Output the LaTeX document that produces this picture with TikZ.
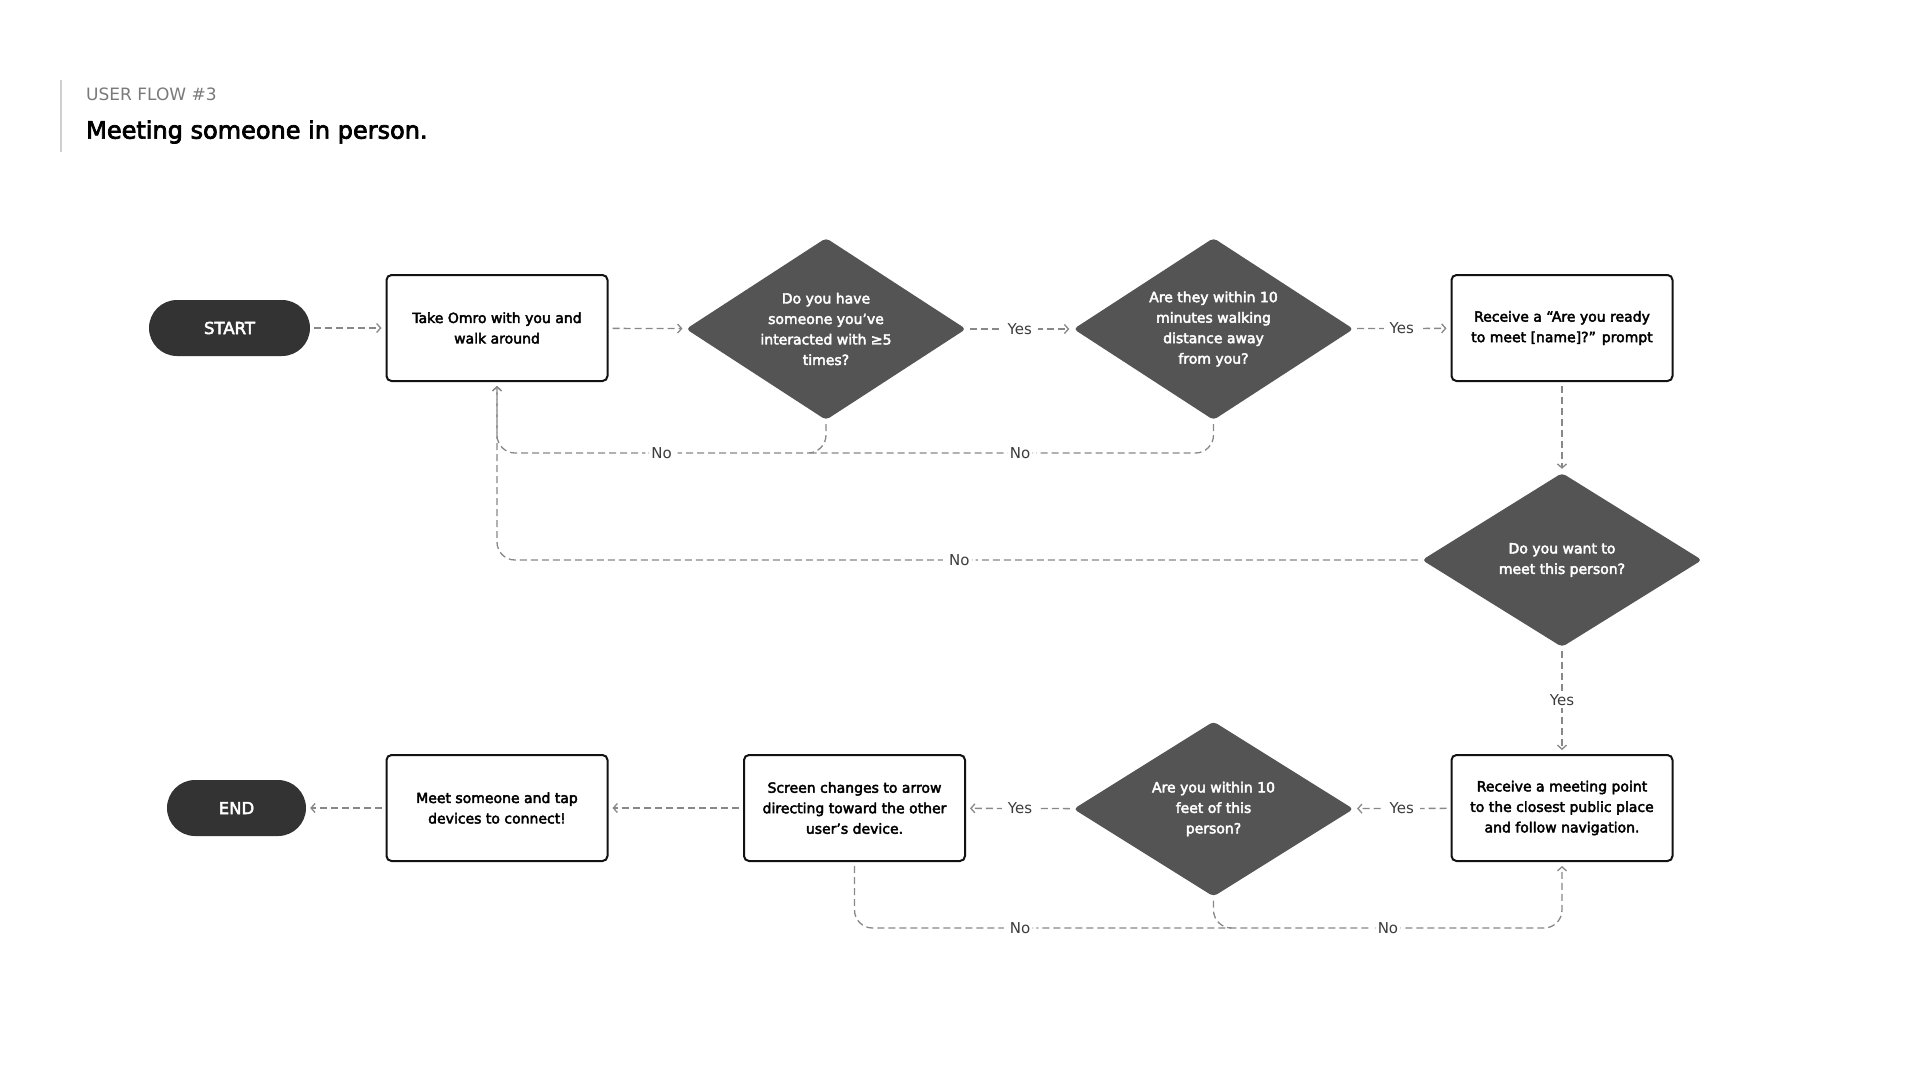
\documentclass[tikz,border=0pt]{standalone}
\usepackage{fontspec}
\setmainfont{DejaVu Sans}
\newfontfamily\medf{DejaVu Sans}[FakeBold=3]
\usetikzlibrary{arrows.meta,shapes.geometric}
\definecolor{dark}{HTML}{333333}
\definecolor{diafill}{HTML}{545454}
\definecolor{linec}{HTML}{888888}
\definecolor{lblc}{HTML}{3C3C3C}
\definecolor{barc}{HTML}{CFCFCF}
\definecolor{subc}{HTML}{7A7A7A}
\begin{document}
\begin{tikzpicture}[x=1pt,y=-1pt,
  box/.style={draw=black!93, line width=2pt, rounded corners=5pt, minimum width=221pt, minimum height=106pt, align=center, font=\medf\fontsize{14}{20.5}\selectfont, inner sep=0pt},
  pill/.style={fill=dark, rounded corners=28pt, minimum height=56pt, text=white, font=\medf\fontsize{16.5}{20}\selectfont, inner sep=0pt},
  dia/.style={diamond, fill=diafill, minimum width=280pt, minimum height=182pt, inner sep=0pt, rounded corners=4pt},
  dtext/.style={text=white, align=center, font=\medf\fontsize{14}{20.5}\selectfont},
  flowline/.style={draw=linec, line width=1.3pt, dash pattern=on 7pt off 4pt, shorten <=4pt},
  flow/.style={flowline, shorten >=4pt, -{Straight Barb[length=4pt,width=9pt]}},
  lbl/.style={fill=white, text=lblc, font=\fontsize{15}{18}\selectfont, inner xsep=6pt, inner ysep=2pt},
]
\useasboundingbox[fill=white] (0,0) rectangle (1920,1080);

% title
\draw[barc, line width=2pt] (61,80) -- (61,152);
\node[anchor=west, inner sep=0pt, text=subc, font=\fontsize{17}{20}\selectfont] (t1) at (86,94) {USER FLOW \#3};
\node[anchor=west, inner sep=0pt, font=\medf\fontsize{24}{28}\selectfont] (t2) at (86,132) {Meeting someone in person.};

% level coordinates
\coordinate (yno1) at (0,453);
\coordinate (yno2) at (0,560);
\coordinate (yno3) at (0,928);

% nodes
\node[pill, minimum width=161pt] (start) at (229.5,328) {START};
\node[box] (b1) at (497,328) {Take Omro with you and\\walk around};
\node[dia] (d1) at (826,329) {};
\node[dtext] (d1t) at (d1) {Do you have\\someone you’ve\\interacted with ≥5\\times?};
\node[dia] (d2) at (1213.5,329) {};
\node[dtext] (d2t) at (d2) {Are they within 10\\minutes walking\\distance away\\from you?};
\node[box] (b3) at (1562,328) {Receive a “Are you ready\\to meet [name]?” prompt};
\node[dia, minimum height=174pt] (d3) at (1562,560) {};
\node[dtext] (d3t) at (d3) {Do you want to\\meet this person?};
\node[box] (b6) at (1562,808) {Receive a meeting point\\to the closest public place\\and follow navigation.};
\node[dia, minimum height=175pt] (d4) at (1213.5,809) {};
\node[dtext] (d4t) at (d4) {Are you within 10\\feet of this\\person?};
\node[box] (b5) at (854.5,808) {Screen changes to arrow\\directing toward the other\\user’s device.};
\node[box] (b4) at (497,808) {Meet someone and tap\\devices to connect!};
\node[pill, minimum width=139pt] (end) at (236.5,808) {END};

% straight connectors
\draw[flow] (start) -- (b1);
\draw[flow] (b1) -- (d1);
\draw[flow] (d1) -- node[lbl]{Yes} (d2);
\draw[flow] (d2) -- node[lbl]{Yes} (b3);
\draw[flow] (b3) -- (d3);
\draw[flow] (d3) -- node[lbl]{Yes} (b6);
\draw[flow] (b6) -- node[lbl]{Yes} (d4);
\draw[flow] (d4) -- node[lbl]{Yes} (b5);
\draw[flow] (b5) -- (b4);
\draw[flow] (b4) -- (end);

% loops back
\draw[flow, rounded corners=18pt] (d3.west) -- node[lbl]{No} (b1.south |- yno2) -- (b1.south);
\draw[flowline, rounded corners=18pt] (d2.south) -- (d2.south |- yno1) -- node[lbl, pos=0.477]{No} ([xshift=-18pt]d1.south |- yno1);
\draw[flow, rounded corners=18pt] (d1.south) -- (d1.south |- yno1) -- node[lbl]{No} (b1.south |- yno1) -- (b1.south);
\draw[flowline, rounded corners=18pt] (d4.south) -- (d4.south |- yno3) -- ([xshift=18pt]d4.south |- yno3);
\draw[flow, rounded corners=18pt] (b5.south) -- (b5.south |- yno3) -- node[lbl, pos=0.234]{No} node[lbl, pos=0.754]{No} (b6.south |- yno3) -- (b6.south);
\end{tikzpicture}
\end{document}
